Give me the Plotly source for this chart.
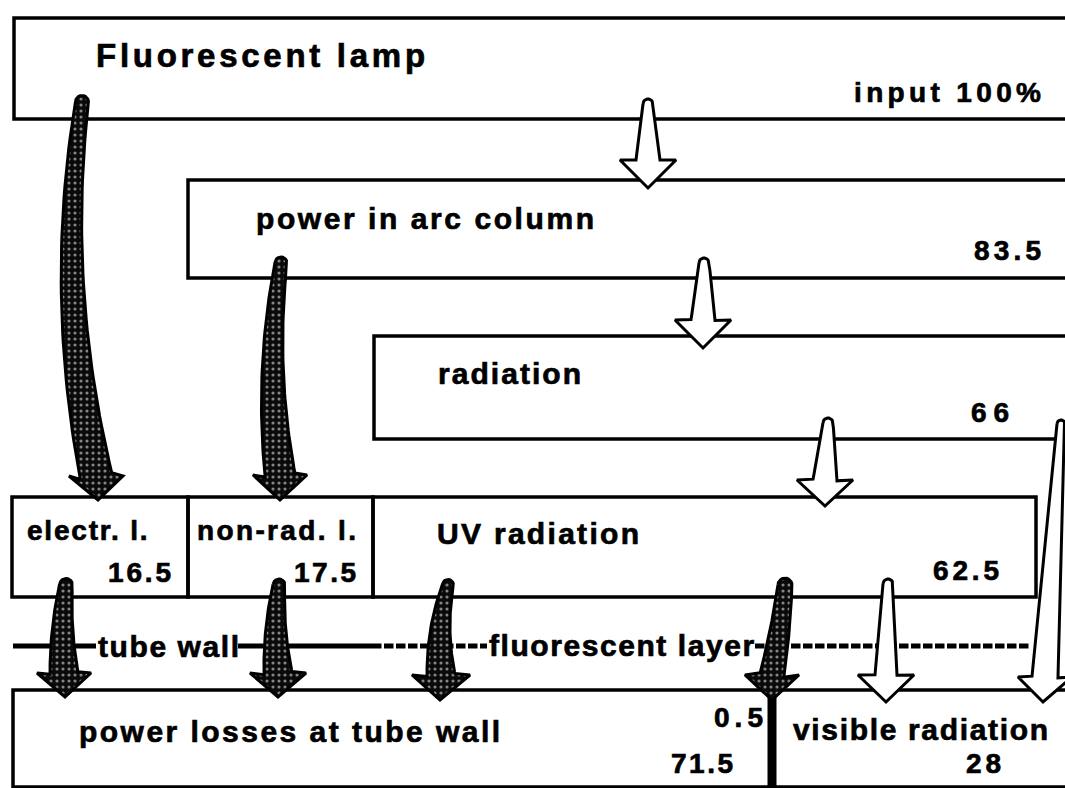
import numpy as np
import plotly.graph_objects as go

W, H = 1065, 788

# ---------------- chart content (text / values) ----------------
stage_titles = ["Fluorescent lamp", "power in arc column", "radiation", "UV radiation"]
stage_values = ["input 100%", "83.5", "66", "62.5"]
loss_titles = ["electr. l.", "non-rad. l."]
loss_values = ["16.5", "17.5"]
layer_titles = ["tube wall", "fluorescent layer"]
output_titles = ["power losses at tube wall", "visible radiation"]
output_values = ["71.5", "28"]
uv_wall_loss = ["0.5"]

# ---------------- layout geometry (pixel space, y downward) ----------------
FONT = "Liberation Sans, Arial, Helvetica, sans-serif"

# approximate Arial Bold advance widths (per 1000 em)
AB = {' ': 278, 'a': 556, 'b': 611, 'c': 556, 'd': 611, 'e': 556, 'f': 333, 'g': 611,
      'h': 611, 'i': 278, 'j': 278, 'k': 556, 'l': 278, 'm': 889, 'n': 611, 'o': 611,
      'p': 611, 'q': 611, 'r': 389, 's': 556, 't': 333, 'u': 611, 'v': 556, 'w': 778,
      'x': 556, 'y': 556, 'z': 500, '.': 278, '-': 333, '%': 889, 'F': 611, 'U': 722,
      'V': 667}


def natural_width(text, size):
    return sum(AB.get(ch, 556) for ch in text) * size / 1000.0


# (text, left x, right x, baseline y, font size)
text_specs = [
    (stage_titles[0], 95, 424, 67, 33),
    (stage_values[0], 853, 1040, 102, 28),
    (stage_titles[1], 255, 593, 229, 30),
    (stage_values[1], 973, 1040, 260, 28),
    (stage_titles[2], 437, 580, 384, 30),
    (stage_values[2], 970, 1008, 422, 28),
    (stage_titles[3], 436, 638, 544, 30),
    (stage_values[3], 932, 998, 580, 28),
    (loss_titles[0], 26, 148, 540, 28),
    (loss_values[0], 107, 170, 582, 28),
    (loss_titles[1], 196, 355, 540, 28),
    (loss_values[1], 293, 355, 582, 28),
    (layer_titles[0], 97, 238, 657, 30),
    (layer_titles[1], 488, 753, 656, 30),
    (output_titles[0], 78, 499, 742, 30),
    (uv_wall_loss[0], 713, 762, 727, 28),
    (output_values[0], 670, 732, 773, 28),
    (output_titles[1], 792, 1047, 740, 30),
    (output_values[1], 965, 1000, 773, 28),
]

# boxes: (x0, y0, x1, y1)
boxes = [
    (14, 18, 1090, 119),
    (188, 180, 1090, 278),
    (374, 336, 1090, 439),
    (12, 497, 188, 597),
    (188, 497, 373, 597),
    (373, 497, 1036, 597),
    (13, 690, 772, 787),
    (772, 690, 1090, 787),
]

# hatched (loss) arrows: p0, control, p2(head base), w0, w1, head half width, tip
hatched_arrows = [
    ((82, 102), (56, 288), (96, 476), 13, 32, 27, (98, 500)),
    ((281, 263), (265, 369), (280, 475), 12, 30, 27, (280, 500)),
    ((66, 585), (60, 630), (64, 673), 13, 28, 27, (65, 697)),
    ((279, 585), (273, 630), (278, 673), 12, 28, 28, (278, 697)),
    ((448, 585), (436, 630), (441, 675), 11, 28, 29, (440, 700)),
    ((785, 585), (781, 630), (772, 675), 14, 24, 27, (772, 700)),
]

# white (useful power) arrows
white_arrows = [
    ((648, 104), (648, 132), (648, 160), 10, 24, 28, (648, 188)),
    ((704, 263), (704, 291), (703, 320), 10, 24, 28, (703, 348)),
    ((828, 423), (827, 451), (825, 480), 10, 24, 28, (825, 506)),
    ((888, 584), (887, 630), (886, 675), 10, 22, 28, (886, 702)),
    ((1061, 424), (1053, 550), (1045, 677), 8, 26, 27, (1043, 702)),
]


def arrow_polygon(p0, p1, p2, w0, w1, hw, tip, n=40):
    t = np.linspace(0, 1, n)
    p0, p1, p2 = (np.array(p, dtype=float) for p in (p0, p1, p2))
    pts = ((1 - t) ** 2)[:, None] * p0 + (2 * (1 - t) * t)[:, None] * p1 + (t ** 2)[:, None] * p2
    der = (2 * (1 - t))[:, None] * (p1 - p0) + (2 * t)[:, None] * (p2 - p1)
    der /= np.linalg.norm(der, axis=1)[:, None]
    nrm = np.stack([-der[:, 1], der[:, 0]], axis=1)
    half = (w0 + (w1 - w0) * t) / 2.0
    left = pts + nrm * half[:, None]
    right = pts - nrm * half[:, None]
    if left[-1, 0] > right[-1, 0]:
        left, right = right, left
    r = w0 / 2.0
    th = np.linspace(0, np.pi, 12)
    d0 = der[0]
    n0 = (left[0] - p0) / r
    cap = np.array([p0 - n0 * r * np.cos(a) - d0 * r * np.sin(a) for a in th])
    xs = list(left[:, 0]) + [p2[0] - hw, tip[0], p2[0] + hw] + list(right[::-1, 0]) + list(cap[:, 0])
    ys = list(left[:, 1]) + [p2[1], tip[1], p2[1]] + list(right[::-1, 1]) + list(cap[:, 1])
    return xs, ys


fig = go.Figure()

for spec in white_arrows:
    xs, ys = arrow_polygon(*spec)
    fig.add_trace(go.Scatter(x=xs, y=ys, mode="lines", fill="toself", fillcolor="white",
                             line=dict(color="black", width=3), hoverinfo="skip",
                             showlegend=False))

for spec in hatched_arrows:
    xs, ys = arrow_polygon(*spec)
    fig.add_trace(go.Scatter(x=xs, y=ys, mode="lines", fill="toself",
                             fillpattern=dict(shape=".", bgcolor="#0a0a0a", fgcolor="white",
                                              size=6, solidity=0.22),
                             line=dict(color="black", width=3), hoverinfo="skip",
                             showlegend=False))

shapes = []
for (x0, y0, x1, y1) in boxes:
    shapes.append(dict(type="rect", xref="x", yref="y", x0=x0, y0=y0, x1=x1, y1=y1,
                       line=dict(color="black", width=3.5), fillcolor="rgba(0,0,0,0)",
                       layer="below"))
shapes.append(dict(type="line", xref="x", yref="y", x0=772, x1=772, y0=690, y1=788,
                   line=dict(color="black", width=9), layer="below"))

# tube wall (solid) and fluorescent layer (dashed, built from short thick dashes)
LAYER_Y = 646
for (x0, x1) in [(13, 96), (238, 372)]:
    shapes.append(dict(type="line", xref="x", yref="y", x0=x0, x1=x1, y0=LAYER_Y, y1=LAYER_Y,
                       line=dict(color="black", width=5), layer="below"))
for (x0, x1) in [(372, 487), (755, 1030)]:
    xs = np.arange(x0, x1, 12.0)
    for xa in xs:
        shapes.append(dict(type="line", xref="x", yref="y", x0=xa, x1=min(xa + 9.5, x1),
                           y0=LAYER_Y, y1=LAYER_Y,
                           line=dict(color="black", width=5), layer="below"))

annotations = []
for (txt, xl, xr, base, size) in text_specs:
    nat = natural_width(txt, size)
    ls = (xr - xl - nat) / max(len(txt) - 1, 1)
    annotations.append(dict(
        x=xl, y=base - 0.35 * size, xref="x", yref="y",
        text='<span style="letter-spacing:%.2fpx;stroke:black;stroke-width:0.7px">%s</span>' % (ls, txt),
        showarrow=False, xanchor="left", yanchor="middle", borderpad=0,
        font=dict(family=FONT, size=size, color="black", weight="bold"),
    ))

fig.update_layout(
    width=W, height=H,
    margin=dict(l=0, r=0, t=0, b=0),
    paper_bgcolor="white", plot_bgcolor="white",
    xaxis=dict(range=[0, W], visible=False, fixedrange=True),
    yaxis=dict(range=[H, 0], visible=False, fixedrange=True),
    shapes=shapes, annotations=annotations,
    showlegend=False,
)

fig.write_html("out.html", config={"displayModeBar": False},
               post_script="document.body.style.margin='0';")
